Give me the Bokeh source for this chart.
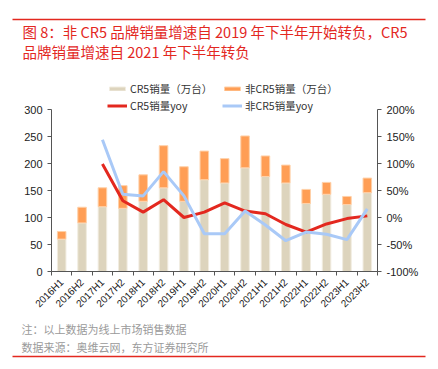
import math
from bokeh.plotting import figure
from bokeh.layouts import column
from bokeh.models import (Range1d, LinearAxis, FixedTicker, Legend, LegendItem, ColumnDataSource)
from bokeh.core.properties import value
from bokeh.embed import file_html
from bokeh.resources import INLINE

periods = ["2016H1", "2016H2", "2017H1", "2017H2", "2018H1", "2018H2", "2019H1", "2019H2",
           "2020H1", "2020H2", "2021H1", "2021H2", "2022H1", "2022H2", "2023H1", "2023H2"]
cr5_sales = [60, 90, 120, 117, 130, 155, 130, 170, 164, 192, 176, 164, 126, 143, 124, 146]
non_cr5_sales = [14, 29, 35, 42, 49, 78, 64, 53, 45, 59, 38, 33, 26, 22, 15, 27]
cr5_yoy = [None, None, 99, 31, 10, 33, 0, 10, 27, 12, 7, -13, -27, -12, -2, 3]
non_cr5_yoy = [None, None, 144, 43, 40, 85, 40, -30, -30, 12, -14, -43, -27, -31, -41, 16]
left_ticks = [0, 50, 100, 150, 200, 250, 300]
right_ticks = [-100, -50, 0, 50, 100, 150, 200]

title_lines = ["图 8：非 CR5 品牌销量增速自 2019 年下半年开始转负，CR5",
               "品牌销量增速自 2021 年下半年转负"]
note_lines = ["注：以上数据为线上市场销售数据",
              "数据来源：奥维云网，东方证券研究所"]

FONT = "Liberation Sans"
CJK = "Noto Sans CJK SC"
RED = "#e3281f"
GREY = "#9a9a9a"
W = 430

def blank_fig(h):
    f = figure(width=W, height=h, output_backend="svg", toolbar_location=None,
               x_range=Range1d(0, W), y_range=Range1d(0, h),
               x_axis_location=None, y_axis_location=None,
               min_border=0, min_border_left=0, min_border_right=0,
               min_border_top=0, min_border_bottom=0, frame_align=False)
    f.outline_line_color = None
    f.grid.visible = False
    return f

def rule(f, y_up):
    src = ColumnDataSource(dict(x=[12, 425], y=[y_up, y_up]))
    f.line(x="x", y="y", source=src, line_color=RED, line_width=1.3)

# ---------------- header (page y 0..76) ----------------
HEAD_H = 76
head = blank_fig(HEAD_H)
rule(head, HEAD_H - 19)
head.text(x=[22, 22], y=[HEAD_H - 31, HEAD_H - 51], text=title_lines, text_font=value(CJK),
          text_font_size="14.5px", text_color=RED, text_baseline="middle", text_align="left")

# ---------------- main chart (page y 76..318) ----------------
MAIN_H = 242
FR_TOP, FR_BOT = 4, 47
px_per_unit = 162 / 300
frame_h = MAIN_H - FR_TOP - FR_BOT
yext = frame_h / px_per_unit

n = len(periods)
xc = [i + 0.5 for i in range(n)]
tops = [a + b for a, b in zip(cr5_sales, non_cr5_sales)]

p = figure(width=W, height=MAIN_H, output_backend="svg", toolbar_location=None,
           x_range=Range1d(0, n), y_range=Range1d(0, yext),
           min_border_left=51, min_border_right=W - 377, min_border_top=FR_TOP,
           min_border_bottom=FR_BOT, frame_align=False)
p.outline_line_color = None
p.xgrid.visible = False
p.ygrid.visible = False
p.extra_y_ranges = {"pct": Range1d(-100, -100 + yext)}

src = ColumnDataSource(dict(x=xc, cr5=cr5_sales, tot=tops, z=[0] * n))
r_cr5 = p.vbar(x="x", bottom="z", top="cr5", width=0.42, source=src,
               fill_color="#ddd4bd", line_color="#f1ece0", line_width=1)
r_non = p.vbar(x="x", bottom="cr5", top="tot", width=0.42, source=src,
               fill_color="#ff9e55", line_color="#ffd0a8", line_width=1)

yx = [xc[i] for i in range(n) if cr5_yoy[i] is not None]
r_red = p.line(yx, [v for v in cr5_yoy if v is not None], y_range_name="pct",
               line_color=RED, line_width=3)
r_blue = p.line(yx, [v for v in non_cr5_yoy if v is not None], y_range_name="pct",
                line_color="#a9c9f7", line_width=3)

AX = "#555555"
xa = p.xaxis[0]
xa.ticker = FixedTicker(ticks=xc, minor_ticks=list(range(0, n + 1)))
xa.major_label_overrides = {x: lab for x, lab in zip(xc, periods)}
xa.major_tick_out = 0
xa.major_tick_in = 0
xa.minor_tick_out = 4
xa.minor_tick_in = 0
xa.major_label_orientation = math.pi / 4
xa.major_label_text_font = FONT
xa.major_label_text_font_size = "10px"
xa.major_label_text_color = "#222222"
xa.axis_line_color = AX
xa.minor_tick_line_color = AX

ya = p.yaxis[0]
ya.ticker = FixedTicker(ticks=left_ticks)
ya.bounds = (0, 300)
ya.major_tick_out = 4
ya.major_tick_in = 0
ya.minor_tick_out = 0
ya.minor_tick_in = 0
ya.major_label_text_font = FONT
ya.major_label_text_font_size = "11px"
ya.major_label_text_color = "#222222"
ya.axis_line_color = AX
ya.major_tick_line_color = AX

ra = LinearAxis(y_range_name="pct", ticker=FixedTicker(ticks=right_ticks), bounds=(-100, 200))
ra.major_label_overrides = {t: f"{t}%" for t in right_ticks}
ra.major_tick_out = 4
ra.major_tick_in = 0
ra.minor_tick_out = 0
ra.minor_tick_in = 0
ra.major_label_text_font = FONT
ra.major_label_text_font_size = "11px"
ra.major_label_text_color = "#222222"
ra.axis_line_color = AX
ra.major_tick_line_color = AX
p.add_layout(ra, "right")

def add_leg(label, rend, x, y):
    leg = Legend(items=[LegendItem(label=label, renderers=[rend])], location=(x, y),
                 padding=0, margin=0, spacing=0, border_line_color=None,
                 background_fill_alpha=0, glyph_width=20, glyph_height=5,
                 label_standoff=3, label_text_font=CJK, label_text_font_size="10.5px",
                 label_text_color="#333333", label_height=13)
    p.add_layout(leg, "center")

add_leg("CR5销量（万台）", r_cr5, 56, 175)
add_leg("非CR5销量（万台）", r_non, 171, 175)
add_leg("CR5销量yoy", r_red, 56, 158)
add_leg("非CR5销量yoy", r_blue, 171, 158)

# ---------------- footer (page y 318..361) ----------------
FOOT_TOP = HEAD_H + MAIN_H
FOOT_H = 361 - FOOT_TOP
foot = blank_fig(FOOT_H)
foot.text(x=[21, 21], y=[361 - 328, 361 - 346], text=note_lines, text_font=value(CJK),
          text_font_size="11px", text_color=GREY, text_baseline="middle", text_align="left")
rule(foot, 361 - 356)

layout = column(head, p, foot, spacing=0)
open("out.html", "w").write(file_html(layout, INLINE))
